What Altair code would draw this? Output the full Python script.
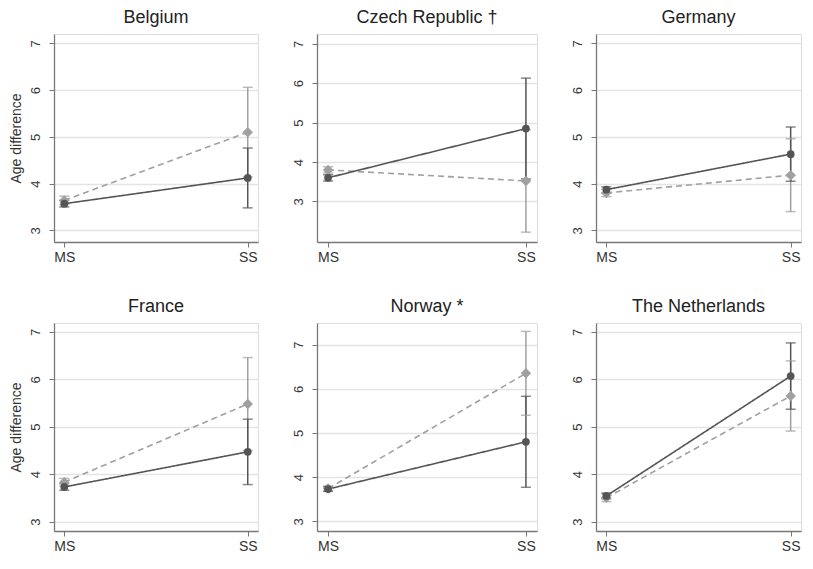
import altair as alt
import pandas as pd

countries = ["Belgium", "Czech Republic †", "Germany", "France", "Norway *", "The Netherlands"]
groups = ["MS", "SS"]

solid_est = [[3.57, 4.12], [3.60, 4.85], [3.87, 4.63], [3.73, 4.47], [3.73, 4.80], [3.54, 6.07]]
solid_lo = [[3.50, 3.48], [3.52, 3.57], [3.80, 4.05], [3.66, 3.78], [3.68, 3.77], [3.48, 5.37]]
solid_hi = [[3.64, 4.76], [3.68, 6.13], [3.93, 5.21], [3.80, 5.16], [3.78, 5.83], [3.60, 6.77]]

dashed_est = [[3.64, 5.10], [3.80, 3.52], [3.80, 4.18], [3.83, 5.48], [3.74, 6.35], [3.50, 5.65]]
dashed_lo = [[3.55, 4.14], [3.72, 2.22], [3.72, 3.40], [3.75, 4.50], [3.68, 5.40], [3.42, 4.91]]
dashed_hi = [[3.73, 6.06], [3.88, 4.82], [3.88, 4.96], [3.91, 6.46], [3.80, 7.30], [3.58, 6.39]]

y_domains = [[2.75, 7.2], [1.97, 7.25], [2.75, 7.2], [2.8, 7.19], [2.78, 7.49], [2.8, 7.19]]
y_ticks = [3, 4, 5, 6, 7]

DARK = "#555555"
LIGHT = "#a0a0a0"
FONT = "Liberation Sans"


def panel(i, w, h, first_col):
    rows = []
    for s, est, lo, hi in [("dashed", dashed_est, dashed_lo, dashed_hi),
                           ("solid", solid_est, solid_lo, solid_hi)]:
        for j, g in enumerate(groups):
            rows.append({"group": g, "series": s, "est": est[i][j],
                         "lo": lo[i][j], "hi": hi[i][j]})
    df = pd.DataFrame(rows)

    yscale = alt.Scale(domain=y_domains[i], nice=False, zero=False)
    yaxis = alt.Axis(values=y_ticks, grid=True, gridColor="#e4e4e4", gridWidth=1.5,
                     domainColor="#777777", domainWidth=1.3, tickColor="#777777",
                     tickSize=5, labelAngle=270, labelAlign="center",
                     labelBaseline="bottom", labelPadding=7, labelFontSize=13,
                     labelColor="#333333", labelFont=FONT,
                     title="Age difference" if first_col else None,
                     titleFontSize=14, titleFontWeight="normal", titleColor="#333333",
                     titleFont=FONT, titlePadding=6)

    def Y(field):
        return alt.Y(f"{field}:Q", scale=yscale, axis=yaxis)

    color = alt.Color("series:N", scale=alt.Scale(domain=["solid", "dashed"],
                                                  range=[DARK, LIGHT]), legend=None)

    base = alt.Chart(df).encode(
        x=alt.X("group:N", scale=alt.Scale(type="point", padding=0.056),
                sort=groups,
                axis=alt.Axis(title=None, labelAngle=0, grid=False,
                              domainColor="#777777", domainWidth=1.3,
                              tickColor="#777777", tickSize=5, labelPadding=3,
                              labelFontSize=14, labelColor="#333333", labelFont=FONT)),
        color=color,
    )

    rule = base.mark_rule(strokeWidth=1.5).encode(y=Y("lo"), y2="hi:Q")
    cap_lo = base.mark_tick(size=10, thickness=1.5).encode(y=Y("lo"))
    cap_hi = base.mark_tick(size=10, thickness=1.5).encode(y=Y("hi"))
    line = base.mark_line(strokeWidth=1.6).encode(
        y=Y("est"),
        strokeDash=alt.StrokeDash("series:N",
                                  scale=alt.Scale(domain=["solid", "dashed"],
                                                  range=[[1, 0], [6, 4]]),
                                  legend=None),
        detail="series:N",
    )
    pts = base.mark_point(filled=True, opacity=1).encode(
        y=Y("est"),
        shape=alt.Shape("series:N", scale=alt.Scale(domain=["solid", "dashed"],
                                                    range=["circle", "diamond"]),
                        legend=None),
        size=alt.Size("series:N", scale=alt.Scale(domain=["solid", "dashed"],
                                                  range=[60, 110]),
                      legend=None),
    )

    return alt.layer(rule, cap_lo, cap_hi, line, pts).properties(
        width=w, height=h,
        title=alt.TitleParams(countries[i], fontSize=18, fontWeight="normal",
                              font=FONT, color="#222222", offset=7, anchor="middle"),
    )


H = 208
row1 = alt.hconcat(panel(0, 204, H, True), panel(1, 220, H, False),
                   panel(2, 205, H, False), spacing=32)
row2 = alt.hconcat(panel(3, 204, H, True), panel(4, 220, H, False),
                   panel(5, 205, H, False), spacing=32)

chart = alt.vconcat(row1, row2, spacing=32).properties(
    padding={"left": 0, "top": 0, "right": 0, "bottom": 0}
).configure_view(stroke=None).configure(background="white").configure_axisY(
    labelAngle=270, labelAlign="center", labelBaseline="bottom"
)

chart.save("out.html", embed_options={"renderer": "svg", "actions": False})
